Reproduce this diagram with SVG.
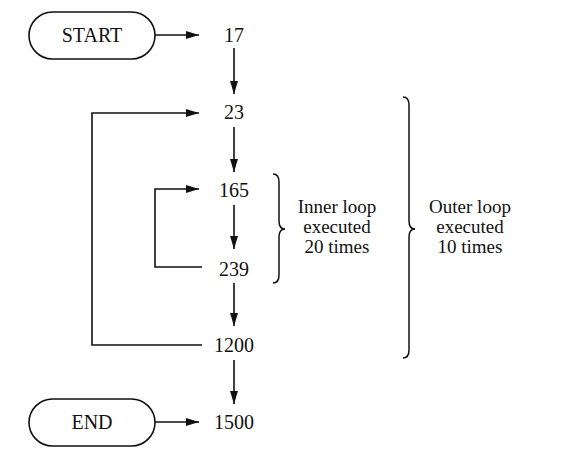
<svg xmlns="http://www.w3.org/2000/svg" width="577" height="469" viewBox="0 0 577 469">
<defs>
<marker id="ah" viewBox="0 0 13 8" refX="13" refY="4" markerWidth="13" markerHeight="8" markerUnits="userSpaceOnUse" orient="auto">
<path d="M0,0 L13,4 L0,8 z" fill="#111"/>
</marker>
</defs>
<style>
text{font-family:"Liberation Serif","Times New Roman",serif;font-size:20px;fill:#111;text-anchor:middle}
text.lb{font-size:19px}
.ln{fill:none;stroke:#111;stroke-width:1.5}
.ar{fill:none;stroke:#111;stroke-width:1.6;marker-end:url(#ah)}
.pill{fill:#fff;stroke:#111;stroke-width:1.6}
</style>
<rect width="577" height="469" fill="#fff"/>
<g id="start"><rect class="pill" x="29" y="12" width="126" height="47" rx="23.5"/><text x="92" y="42">START</text></g>
<g id="n17"><text x="234" y="42">17</text></g>
<g id="n23"><text x="234" y="119">23</text></g>
<g id="n165"><text x="234" y="197">165</text></g>
<g id="n239"><text x="234" y="276">239</text></g>
<g id="n1200"><text x="234" y="352">1200</text></g>
<g id="n1500"><text x="234" y="429">1500</text></g>
<g id="end"><rect class="pill" x="29" y="399" width="126" height="47" rx="23.5"/><text x="92" y="429">END</text></g>
<g id="connectors">
<path class="ar" d="M155,35 L199,35"/>
<path class="ar" d="M234,48 L234,94"/>
<path class="ar" d="M234,127 L234,172"/>
<path class="ar" d="M234,205 L234,249"/>
<path class="ar" d="M234,283 L234,326"/>
<path class="ar" d="M234,360 L234,404"/>
<path class="ar" d="M155,422 L199,422"/>
<path class="ar" d="M202,267 L155,267 L155,189 L199,189"/>
<path class="ar" d="M202,345 L92,345 L92,113 L199,113"/>
</g>
<g id="inner-brace">
<path class="ln" d="M273,174 Q279,174 279,182 L279,221 Q279,229 285,229 Q279,229 279,237 L279,275 Q279,283 273,283"/>
<text class="lb" x="337" y="213">Inner loop</text><text class="lb" x="337" y="233">executed</text><text class="lb" x="337" y="253">20 times</text>
</g>
<g id="outer-brace">
<path class="ln" d="M403,97 Q409,97 409,105 L409,221 Q409,229 415,229 Q409,229 409,237 L409,350 Q409,358 403,358"/>
<text class="lb" x="470" y="213">Outer loop</text><text class="lb" x="470" y="233">executed</text><text class="lb" x="470" y="253">10 times</text>
</g>
</svg>
